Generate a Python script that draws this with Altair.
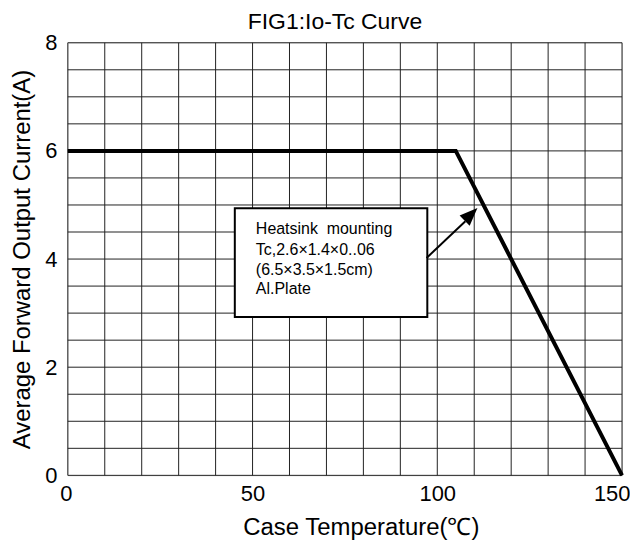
import altair as alt
import pandas as pd

# Derating curve
temps = [0, 105, 150]
currents = [6, 6, 0]

# Grid / tick values
x_grid = list(range(0, 151, 10))
y_grid = [i * 0.5 for i in range(17)]
x_labels = [0, 50, 100, 150]
y_labels = [0, 2, 4, 6, 8]

# Annotation box
box_x = [45.2]
box_x2 = [97.3]
box_y = [2.93]
box_y2 = [4.94]
note_lines = ["Heatsink\u00a0 mounting", "Tc,2.6×1.4×0..06", "(6.5×3.5×1.5cm)", "Al.Plate"]
note_x = [50.9, 50.9, 50.9, 50.9]
note_y = [4.455, 4.083, 3.714, 3.346]

# Arrow
arrow_x = [97.1, 107.6]
arrow_y = [4.02, 4.70]
head_x = [107.4]
head_y = [4.71]
head_angle = [45.6]

FONT = "Liberation Sans"

curve_df = pd.DataFrame({"t": temps, "i": currents})
xg_df = pd.DataFrame({"x": x_grid})
yg_df = pd.DataFrame({"y": y_grid})
box_df = pd.DataFrame({"x": box_x, "x2": box_x2, "y": box_y, "y2": box_y2})
note_df = pd.DataFrame({"x": note_x, "y": note_y, "txt": note_lines})
arrow_df = pd.DataFrame({"x": arrow_x, "y": arrow_y})
head_df = pd.DataFrame({"x": head_x, "y": head_y, "a": head_angle})

xscale = alt.Scale(domain=[0, 150], nice=False, zero=False)
yscale = alt.Scale(domain=[0, 8], nice=False, zero=False)

x_axis = alt.Axis(
    values=x_labels,
    format="d",
    labelOverlap=False,
    labelFlush=True,
    labelFlushOffset=8,
    grid=False, ticks=False, domain=False,
    labelFont=FONT, labelFontSize=22, labelColor="black", labelPadding=8,
    title="Case Temperature(℃)", titleFont=FONT, titleFontSize=24,
    titleFontWeight="normal", titleColor="black", titlePadding=11,
    titleX=294,
)
y_axis = alt.Axis(
    values=y_labels,
    format="d",
    labelOverlap=False,
    labelFlush=False,
    grid=False, ticks=False, domain=False,
    labelFont=FONT, labelFontSize=22, labelColor="black", labelPadding=11,
    title="Average Forward Output Current(A)", titleFont=FONT, titleFontSize=24,
    titleFontWeight="normal", titleColor="black", titlePadding=10,
)

vgrid = alt.Chart(xg_df).mark_rule(color="#222", strokeWidth=1).encode(
    x=alt.X("x:Q", scale=xscale, axis=x_axis),
)
hgrid = alt.Chart(yg_df).mark_rule(color="#222", strokeWidth=1).encode(
    y=alt.Y("y:Q", scale=yscale, axis=y_axis),
)

curve = alt.Chart(curve_df).mark_line(color="black", strokeWidth=4).encode(
    x=alt.X("t:Q", scale=xscale),
    y=alt.Y("i:Q", scale=yscale),
)

box = alt.Chart(box_df).mark_rect(fill="white", stroke="black", strokeWidth=2).encode(
    x=alt.X("x:Q", scale=xscale), x2="x2:Q",
    y=alt.Y("y:Q", scale=yscale), y2="y2:Q",
)

note = alt.Chart(note_df).mark_text(
    align="left", baseline="alphabetic", font=FONT, fontSize=16, color="black"
).encode(
    x=alt.X("x:Q", scale=xscale),
    y=alt.Y("y:Q", scale=yscale),
    text="txt:N",
)

arrow = alt.Chart(arrow_df).mark_line(color="black", strokeWidth=2).encode(
    x=alt.X("x:Q", scale=xscale),
    y=alt.Y("y:Q", scale=yscale),
)

head = alt.Chart(head_df).mark_point(
    shape="M0,-1L0.4,0L-0.4,0Z", filled=True, color="black", opacity=1, size=1296, strokeWidth=0
).encode(
    x=alt.X("x:Q", scale=xscale),
    y=alt.Y("y:Q", scale=yscale),
    angle=alt.Angle("a:Q", scale=None),
)

chart = alt.layer(vgrid, hgrid, curve, box, note, arrow, head).properties(
    width=556,
    height=434,
    padding={"left": 2, "top": 2, "right": 0, "bottom": 0},
    title=alt.TitleParams(
        "FIG1:Io-Tc Curve", font=FONT, fontSize=23, fontWeight="normal",
        color="black", offset=-2, frame="group", dx=-10,
    ),
).configure_view(stroke="black", strokeWidth=1).configure(background="white")

chart.save("out.html", embed_options={"renderer": "svg", "actions": False})
